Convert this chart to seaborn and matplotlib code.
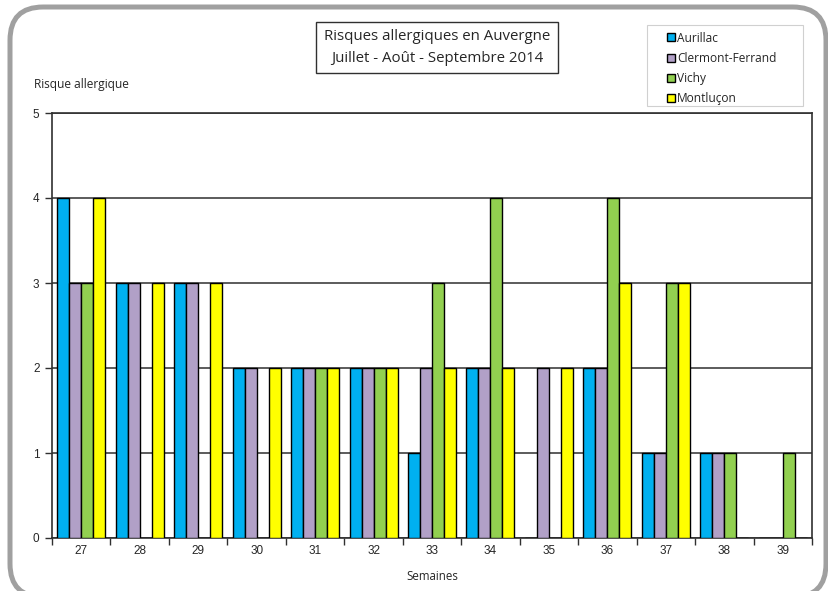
import matplotlib
matplotlib.use("Agg")
import matplotlib.pyplot as plt
import seaborn as sns
import pandas as pd
from matplotlib.patches import FancyBboxPatch, Rectangle
from matplotlib.lines import Line2D

weeks = ["27", "28", "29", "30", "31", "32", "33", "34", "35", "36", "37", "38", "39"]
aurillac = [4, 3, 3, 2, 2, 2, 1, 2, 0, 2, 1, 1, 0]
clermont = [3, 3, 3, 2, 2, 2, 2, 2, 2, 2, 1, 1, 0]
vichy = [3, 0, 0, 0, 2, 2, 3, 4, 0, 4, 3, 1, 1]
montlucon = [4, 3, 3, 2, 2, 2, 2, 2, 2, 3, 3, 0, 0]
series_names = ["Aurillac", "Clermont-Ferrand", "Vichy", "Montluçon"]
colors = ["#00B0F0", "#B1A0C7", "#92D050", "#FFFF00"]

rows = []
for name, vals in zip(series_names, [aurillac, clermont, vichy, montlucon]):
    for w, v in zip(weeks, vals):
        rows.append({"Semaine": w, "Ville": name, "Risque": v})
df = pd.DataFrame(rows)

sns.set_style("white")
plt.rcParams["font.family"] = ["Liberation Sans", "DejaVu Sans"]

fig = plt.figure(figsize=(8.29, 5.91), dpi=100)
ax = fig.add_axes([52 / 829, 53 / 591, 760 / 829, 425 / 591])

sns.barplot(data=df, x="Semaine", y="Risque", hue="Ville", order=weeks,
            hue_order=series_names, palette=colors, width=0.82, gap=0,
            edgecolor="black", linewidth=1.0, saturation=1, ax=ax, legend=False,
            errorbar=None, zorder=3)

ax.set_ylim(0, 5)
ax.set_xlim(-0.5, len(weeks) - 0.5)
ax.set_yticks(range(0, 6))
ax.yaxis.grid(True, color="#404040", linewidth=1.2, zorder=0)
ax.set_axisbelow(True)
for s in ax.spines.values():
    s.set_color("#303030")
    s.set_linewidth(1.2)

ax.set_xticks(range(len(weeks)))
ax.set_xticklabels(weeks, fontsize=8.5)
ax.tick_params(axis="x", which="major", length=0, pad=5)
ax.set_xticks([i + 0.5 for i in range(-1, len(weeks))], minor=True)
ax.tick_params(axis="x", which="minor", length=5, width=1, color="#303030", direction="out", bottom=True)
ax.tick_params(axis="y", length=5, width=1, color="#303030", direction="out", left=True, labelsize=8.5, pad=4)
ax.set_xlabel("")
ax.set_ylabel("")

fig.text(34 / 829, 1 - 85 / 591, "Risque allergique", fontsize=8.6, ha="left", va="center",
         family=["Open Sans", "DejaVu Sans"])
fig.text(432 / 829, 1 - 577 / 591, "Semaines", fontsize=8.3, ha="center", va="center",
         family=["Open Sans", "DejaVu Sans"])

fig.text(437 / 829, 1 - 47.5 / 591, "Risques allergiques en Auvergne\nJuillet - Août - Septembre 2014",
         fontsize=10.8, ha="center", va="center", linespacing=1.6,
         family=["Open Sans", "DejaVu Sans"],
         bbox=dict(boxstyle="square,pad=0.5", facecolor="white", edgecolor="#303030", linewidth=1.0))

# legend frame
fig.patches.append(Rectangle((647 / 829, 1 - 106 / 591), 156 / 829, 81 / 591,
                             transform=fig.transFigure, facecolor="white",
                             edgecolor="#D0D0D0", linewidth=0.8, zorder=1))
handles = [Line2D([], [], marker="s", linestyle="none", markersize=5.5,
                  markerfacecolor=c, markeredgecolor="black", markeredgewidth=1.0)
           for c in colors]
leg = fig.legend(handles, series_names, loc="upper left",
                 bbox_to_anchor=(664 / 829, 1 - 28 / 591), frameon=False,
                 handlelength=0.6, handletextpad=0.2,
                 labelspacing=0.6, borderpad=0.3, borderaxespad=0,
                 prop={"family": ["Open Sans", "DejaVu Sans"], "size": 8.6})
leg.set_zorder(5)

border = FancyBboxPatch((10 / 829, -6 / 591), 816 / 829, 590 / 591,
                        boxstyle="round,pad=0,rounding_size=0.04",
                        transform=fig.transFigure, facecolor="none",
                        edgecolor="#A0A0A0", linewidth=3.6, mutation_aspect=829 / 591)
fig.patches.append(border)

fig.savefig("out.png", dpi=100)
